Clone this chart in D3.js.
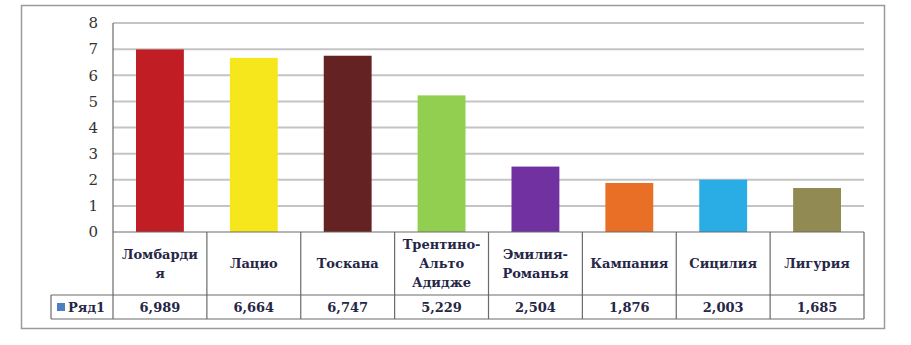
<!DOCTYPE html>
<html>
<head>
<meta charset="utf-8">
<script src="https://cdn.jsdelivr.net/npm/d3@7"></script>
<style>
  body { margin: 0; background: #fff; }
</style>
</head>
<body>
<div id="chart"></div>
<script>
const width = 911, height = 345;

// data
const categories = ["Ломбардия", "Лацио", "Тоскана", "Трентино-Альто Адидже", "Эмилия-Романья", "Кампания", "Сицилия", "Лигурия"];
// how the category labels are broken in the table
const categoryLines = [["Ломбарди", "я"], ["Лацио"], ["Тоскана"], ["Трентино-", "Альто", "Адидже"], ["Эмилия-", "Романья"], ["Кампания"], ["Сицилия"], ["Лигурия"]];
const values = [6.989, 6.664, 6.747, 5.229, 2.504, 1.876, 2.003, 1.685];
const valueLabels = ["6,989", "6,664", "6,747", "5,229", "2,504", "1,876", "2,003", "1,685"];
const barColors = ["#c11d25", "#f6e71c", "#652223", "#92ce4f", "#7131a1", "#e96f27", "#2aade4", "#928a53"];
const seriesName = "Ряд1";
const yTicks = [0, 1, 2, 3, 4, 5, 6, 7, 8];

const plot = {left: 113, right: 864, top: 23, bottom: 232};
const tableBottomCat = 295, tableBottom = 319, legendLeft = 51;
const textColor = "#262646";
const serif = "DejaVu Serif, Liberation Serif, Tinos, Noto Serif, serif";

const svg = d3.select("#chart").append("svg")
  .attr("width", width).attr("height", height)
  .attr("font-family", serif);

// outer frame
svg.append("rect")
  .attr("x", 21.5).attr("y", 5.5)
  .attr("width", 863).attr("height", 323)
  .attr("fill", "#fff").attr("stroke", "#9a9a9a").attr("stroke-width", 1.5);

const x = d3.scaleBand()
  .domain(categories)
  .range([plot.left, plot.right])
  .paddingInner(0).paddingOuter(0);

const y = d3.scaleLinear()
  .domain([0, 8])
  .range([plot.bottom, plot.top]);

// gridlines
svg.append("g")
  .selectAll("line")
  .data(yTicks.slice(1))
  .join("line")
  .attr("x1", plot.left).attr("x2", plot.right)
  .attr("y1", d => y(d)).attr("y2", d => y(d))
  .attr("stroke", "#c4c4c4").attr("stroke-width", 2);

// y axis labels
svg.append("g")
  .selectAll("text")
  .data(yTicks)
  .join("text")
  .attr("x", 98).attr("y", d => y(d))
  .attr("dy", "0.35em")
  .attr("text-anchor", "end")
  .attr("font-size", 15)
  .attr("fill", "#333")
  .text(d => d);

// bars
const barW = x.bandwidth() * 0.51;
svg.append("g")
  .selectAll("rect")
  .data(values)
  .join("rect")
  .attr("x", (d, i) => x(categories[i]) + (x.bandwidth() - barW) / 2)
  .attr("y", d => y(d))
  .attr("width", barW)
  .attr("height", d => y(0) - y(d))
  .attr("fill", (d, i) => barColors[i]);

// data table
const lineColor = "#6a6a6a";
const tbl = svg.append("g").attr("stroke", lineColor).attr("stroke-width", 1.2).attr("fill", "none");
// horizontal lines
tbl.append("line").attr("x1", plot.left).attr("x2", plot.right).attr("y1", plot.bottom).attr("y2", plot.bottom);
tbl.append("line").attr("x1", legendLeft).attr("x2", plot.right).attr("y1", tableBottomCat).attr("y2", tableBottomCat);
tbl.append("line").attr("x1", legendLeft).attr("x2", plot.right).attr("y1", tableBottom).attr("y2", tableBottom);
// vertical lines
tbl.append("line").attr("x1", plot.left).attr("x2", plot.left).attr("y1", plot.top).attr("y2", tableBottom);
tbl.append("line").attr("x1", legendLeft).attr("x2", legendLeft).attr("y1", tableBottomCat).attr("y2", tableBottom);
tbl.selectAll("line.col")
  .data(categories)
  .join("line")
  .attr("class", "col")
  .attr("x1", d => x(d) + x.bandwidth()).attr("x2", d => x(d) + x.bandwidth())
  .attr("y1", plot.bottom).attr("y2", tableBottom);

// category labels
const lineH = 19;
const catMid = (plot.bottom + tableBottomCat) / 2;
svg.append("g")
  .selectAll("text")
  .data(categoryLines)
  .join("text")
  .attr("x", (d, i) => x(categories[i]) + x.bandwidth() / 2)
  .attr("y", d => catMid - (d.length - 1) * lineH / 2)
  .attr("text-anchor", "middle")
  .attr("font-size", 13)
  .attr("font-weight", "bold")
  .attr("fill", textColor)
  .each(function (d) {
    const cx = d3.select(this).attr("x");
    d3.select(this).selectAll("tspan")
      .data(d)
      .join("tspan")
      .attr("x", cx)
      .attr("dy", (t, j) => j === 0 ? "0.35em" : lineH)
      .text(t => t);
  });

// values row
const valMid = (tableBottomCat + tableBottom) / 2;
svg.append("g")
  .selectAll("text")
  .data(valueLabels)
  .join("text")
  .attr("x", (d, i) => x(categories[i]) + x.bandwidth() / 2)
  .attr("y", valMid)
  .attr("dy", "0.35em")
  .attr("text-anchor", "middle")
  .attr("font-size", 13)
  .attr("font-weight", "bold")
  .attr("fill", textColor)
  .text(d => d);

// legend key
svg.append("rect")
  .attr("x", 57).attr("y", valMid - 4)
  .attr("width", 8).attr("height", 8)
  .attr("fill", "#4f7fbf");
svg.append("text")
  .attr("x", 68).attr("y", valMid)
  .attr("dy", "0.35em")
  .attr("font-size", 13)
  .attr("font-weight", "bold")
  .attr("fill", textColor)
  .text(seriesName);
</script>
</body>
</html>
